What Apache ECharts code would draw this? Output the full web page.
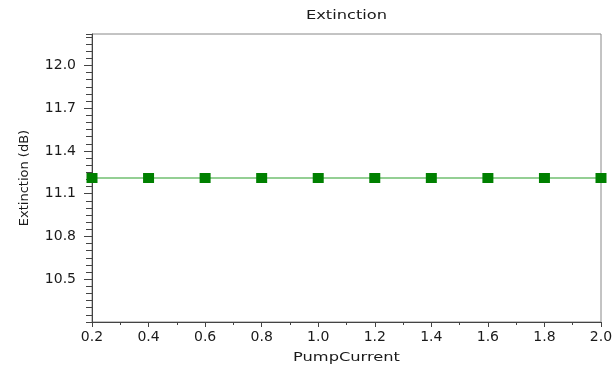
<!DOCTYPE html>
<html>
<head>
<meta charset="utf-8">
<script src="https://cdn.jsdelivr.net/npm/echarts@6/dist/echarts.min.js"></script>
<style>
  html, body { margin: 0; padding: 0; background: #fff; }
  #chart { width: 616px; height: 372px; }
</style>
</head>
<body>
<div id="chart"></div>
<script>
// Extinction ratio measured against pump current
const pumpCurrent = [0.2, 0.4, 0.6, 0.8, 1.0, 1.2, 1.4, 1.6, 1.8, 2.0];
const extinctionDb = [11.21, 11.21, 11.21, 11.21, 11.21, 11.21, 11.21, 11.21, 11.21, 11.21];

const titleText = 'Extinction';
const xName = 'PumpCurrent';
const yName = 'Extinction (dB)';

const yMin = 10.2, yMax = 12.22;
const FONT = 'DejaVu Sans';
const TEXT = '#1a1a1a';
const AXIS = '#444';

const grid = { left: 92, right: 15, top: 34, bottom: 50 };
const plotCenterX = grid.left + (616 - grid.left - grid.right) / 2;

const chart = echarts.init(document.getElementById('chart'), null, { renderer: 'canvas' });

// widened caption text, centred over the plot area
function caption(text, y) {
  return {
    type: 'text',
    x: plotCenterX, y: y,
    scaleX: 1.25,
    silent: true,
    style: {
      text: text,
      font: '13px "' + FONT + '"',
      fill: TEXT,
      textAlign: 'center',
      textVerticalAlign: 'middle'
    }
  };
}

chart.setOption({
  animation: false,
  backgroundColor: '#fff',
  graphic: [caption(titleText, 16), caption(xName, 358)],
  grid: Object.assign({
    show: true, borderColor: '#888', borderWidth: 1, backgroundColor: 'transparent'
  }, grid),
  xAxis: {
    type: 'value',
    min: 0.2, max: 2.0, interval: 0.2,
    axisLine: { show: true, onZero: false, lineStyle: { color: AXIS, width: 1 } },
    axisTick: { show: true, inside: false, length: 5, lineStyle: { color: AXIS } },
    minorTick: { show: true, splitNumber: 2, length: 3, lineStyle: { color: AXIS } },
    splitLine: { show: false },
    axisLabel: {
      margin: 8,
      fontFamily: FONT, fontSize: 14, color: TEXT,
      formatter: v => v.toFixed(1)
    }
  },
  yAxis: [
    {
      // labelled axis, major ticks every 0.3 dB
      type: 'value',
      min: yMin, max: yMax, interval: 0.3,
      name: yName,
      nameLocation: 'middle',
      nameGap: 61,
      nameRotate: 90,
      nameTextStyle: { fontFamily: FONT, fontSize: 13, color: TEXT },
      axisLine: { show: true, onZero: false, lineStyle: { color: AXIS, width: 1 } },
      axisTick: { show: true, length: 8, lineStyle: { color: AXIS } },
      splitLine: { show: false },
      axisLabel: {
        margin: 16,
        showMinLabel: false, showMaxLabel: false,
        fontFamily: FONT, fontSize: 14, color: TEXT,
        formatter: v => v.toFixed(1)
      }
    },
    {
      // fine ticks every 0.05 dB on the same side
      type: 'value',
      position: 'left',
      min: yMin, max: yMax, interval: 0.05,
      axisLine: { show: false },
      axisTick: { show: true, length: 6, lineStyle: { color: AXIS } },
      splitLine: { show: false },
      axisLabel: { show: false }
    }
  ],
  series: [{
    type: 'line',
    yAxisIndex: 0,
    data: pumpCurrent.map((x, i) => [x, extinctionDb[i]]),
    symbol: 'rect',
    symbolSize: [11, 10],
    showAllSymbol: true,
    clip: false,
    lineStyle: { color: '#72c072', width: 1.5 },
    itemStyle: { color: '#008000', borderWidth: 0 }
  }]
});
</script>
</body>
</html>
